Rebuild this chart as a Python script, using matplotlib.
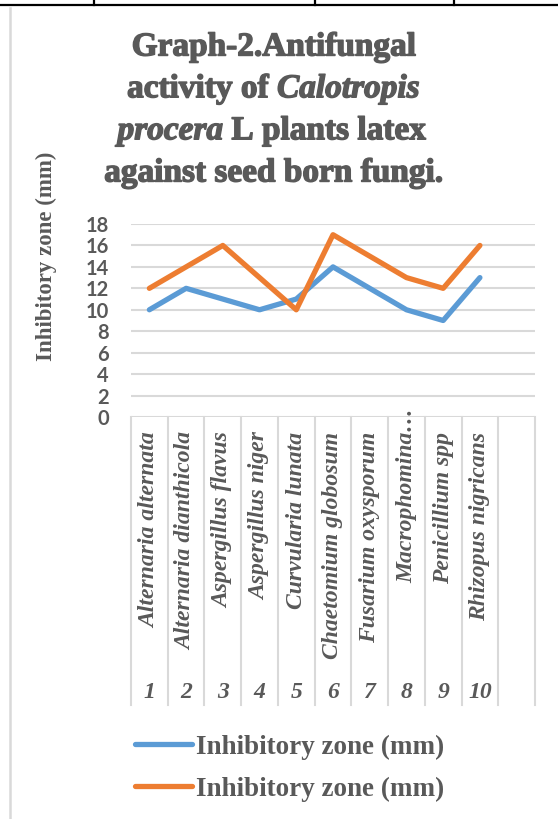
import matplotlib
matplotlib.use("Agg")
import matplotlib.pyplot as plt
from matplotlib.lines import Line2D
import matplotlib.patheffects as pe

# ---- data ----
categories = ["Alternaria alternata", "Alternaria dianthicola", "Aspergillus flavus",
              "Aspergillus niger", "Curvularia lunata", "Chaetomium globosum",
              "Fusarium oxysporum", "Macrophomina…", "Penicillium spp", "Rhizopus nigricans"]
numbers = ["1", "2", "3", "4", "5", "6", "7", "8", "9", "10"]
series1 = [10, 12, 11, 10, 11, 14, 12, 10, 9, 13]
series2 = [12, 14, 16, 13, 10, 17, 15, 13, 12, 16]
series_names = ["Inhibitory zone (mm)", "Inhibitory zone (mm)"]
yticks = [0, 2, 4, 6, 8, 10, 12, 14, 16, 18]
n_slots = 11

W, H = 558, 819
DPI = 100
GRAY = "#595959"
GRID = "#D9D9D9"
BLUE = "#5B9BD5"
ORANGE = "#ED7D31"

plt.rcParams['mathtext.fontset'] = 'custom'
plt.rcParams['mathtext.rm'] = 'Liberation Serif:bold'
plt.rcParams['mathtext.it'] = 'Liberation Serif:bold:italic'
plt.rcParams['mathtext.bf'] = 'Liberation Serif:bold'

fig = plt.figure(figsize=(W / DPI, H / DPI), dpi=DPI)

def fx(px):
    return px / W

def fy(py):
    return 1 - py / H

# table border lines at top
fig.add_artist(Line2D([0, 1], [fy(5), fy(5)], color="black", lw=1.6))
for xv in [94, 315, 454]:
    fig.add_artist(Line2D([fx(xv), fx(xv)], [fy(0), fy(5)], color="black", lw=1.6))
# chart frame (left edge)
fig.add_artist(Line2D([fx(10), fx(10)], [fy(8), fy(819)], color=GRID, lw=1.8))

# axes
left, right, top, bottom = 131, 535, 224, 417
ax = fig.add_axes([fx(left), fy(bottom), fx(right) - fx(left), fy(top) - fy(bottom)])
ax.set_xlim(0, n_slots)
ax.set_ylim(0, 18)
for s in ax.spines.values():
    s.set_visible(False)
ax.set_yticks(yticks)
ax.set_yticklabels([str(v) for v in yticks], fontfamily="Lato", fontweight="bold",
                   fontsize=14.5, color=GRAY)
ax.tick_params(axis="y", length=0, pad=16)
ax.set_xticks([])
for v in yticks:
    ax.axhline(v, color=GRID, lw=1.5, zorder=1)

xs = [i + 0.5 for i in range(len(series1))]
l1, = ax.plot(xs, series1, color=BLUE, lw=3.8, solid_capstyle="round",
              solid_joinstyle="round", zorder=3)
l2, = ax.plot(xs, series2, color=ORANGE, lw=3.8, solid_capstyle="round",
              solid_joinstyle="round", zorder=3)

# category area
axh = bottom - top
def ayf(py):
    return (bottom - py) / axh

tr = ax.get_xaxis_transform()
for b in range(n_slots + 1):
    ax.add_line(Line2D([b, b], [ayf(417), ayf(705)], color=GRID, lw=1.5,
                       transform=tr, clip_on=False))
for i, name in enumerate(categories):
    ytop = 408 if name.endswith("…") else 432
    ax.text(i + 0.5, ayf(ytop), name, rotation=90, ha="center", va="top",
            transform=tr, fontfamily="Liberation Serif", fontweight="bold",
            fontstyle="italic", fontsize=17, color=GRAY, clip_on=False)
for i, num in enumerate(numbers):
    ax.text(i + 0.5, ayf(692), num, ha="center", va="center", transform=tr,
            fontfamily="Liberation Serif", fontweight="bold", fontstyle="italic",
            fontsize=17, color=GRAY, clip_on=False)

# y label
fig.text(fx(46), fy(256), "Inhibitory zone (mm)", rotation=90, ha="center", va="center",
         fontfamily="Liberation Serif", fontweight="bold", fontsize=16.5, color=GRAY)

# title
title_lines = ["Graph-2.Antifungal",
               r"activity of $\mathit{Calotropis}$",
               r"$\mathit{procera}$ L plants latex",
               "against seed born fungi."]
title_y = [47, 89, 131, 173]
for t, yy in zip(title_lines, title_y):
    fig.text(fx(274), fy(yy), t, ha="center", va="center", fontfamily="Liberation Serif",
             fontweight="bold", fontsize=24, color=GRAY,
             path_effects=[pe.withStroke(linewidth=1.0, foreground=GRAY)])

# legend
leg = fig.legend(handles=[l1, l2], labels=series_names, loc="center",
                 bbox_to_anchor=(fx(290), fy(768)), ncol=1, frameon=False,
                 prop={"family": "Liberation Serif", "weight": "bold", "size": 19.5},
                 handlelength=2.1, handletextpad=0.15, labelspacing=0.62, labelcolor=GRAY)

fig.savefig("out.png", dpi=DPI, facecolor="white")
